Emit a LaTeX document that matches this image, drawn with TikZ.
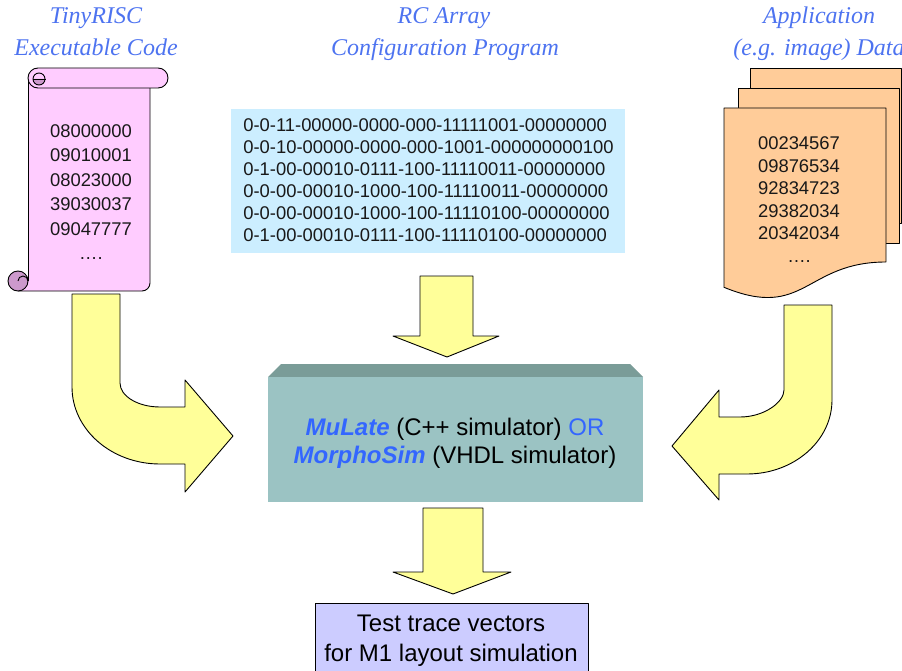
\documentclass[tikz,border=0pt]{standalone}
\usepackage{fontspec}
\setmainfont{Liberation Sans}
\newfontfamily\titlefont{Liberation Serif}

\definecolor{arrowyellow}{HTML}{FFFF99}
\definecolor{scrollpink}{HTML}{FFCCFF}
\definecolor{scrolldark}{HTML}{CC99CC}
\definecolor{pagepeach}{HTML}{FFCC99}
\definecolor{cfgblue}{HTML}{CCEEFF}
\definecolor{simface}{HTML}{9BC3C3}
\definecolor{simtop}{HTML}{7A9C98}
\definecolor{tracelilac}{HTML}{CCCCFF}
\definecolor{titleblue}{HTML}{4D73F0}
\definecolor{simblue}{HTML}{3366FF}

\tikzset{
  outline/.style={draw=black, line width=0.9pt, line join=round},
  bigarrow/.style={outline, fill=arrowyellow},
  page/.style={outline, fill=pagepeach},
  titletext/.style={font=\titlefont\itshape\fontsize{24}{28}\selectfont,
    text=titleblue, inner sep=0pt, anchor=base},
  listing/.style={inner sep=0pt, anchor=north, text=black!90},
}

\begin{document}
\begin{tikzpicture}[x=1pt, y=-1pt]
\useasboundingbox (0,0) rectangle (902,671);

% headings
\node[titletext] (codeA) at (96,24) {TinyRISC};
\node[titletext] (codeB) at (96,56) {Executable Code};
\node[titletext] (cfgA) at (444,24) {RC Array};
\node[titletext] (cfgB) at (445,56) {Configuration Program};
\node[titletext] (dataA) at (819,24) {Application};
\node[titletext] (dataB) at (819,56) {(e.g. image) Data};

% scroll: body
\fill[scrollpink] (28,78) -- (28,281) -- (18,281) -- (18,291) -- (142,291)
  arc[start angle=90, end angle=0, radius=8] -- (150,80) -- cycle;
\draw[outline] (28,78) -- (28,281);
\draw[outline] (18,291) -- (142,291)
  arc[start angle=90, end angle=0, radius=8] -- (150,88);
% scroll: bottom curl
\draw[outline, fill=scrolldark] (18,281) circle[radius=10];
\draw[outline] (28,281) arc[start angle=0, end angle=-180, radius=5];
% scroll: top roll
\draw[outline, fill=scrollpink] (38,68) -- (158,68)
  arc[start angle=-90, end angle=90, radius=10] -- (38,88)
  arc[start angle=90, end angle=270, radius=10] -- cycle;
\fill[scrolldark] (33,79) arc[start angle=180, end angle=0, radius=6] -- cycle;
\draw[outline] (39,79) circle[radius=6];
\draw[outline] (33,79) -- (46,79);

\node[listing, align=center, font=\fontsize{18.4}{24.5}\selectfont] (codelist) at (91,124.4)
  {08000000\\09010001\\08023000\\39030037\\09047777\\….};

% configuration program
\fill[cfgblue] (231,109) rectangle (625,253);
\node[listing, align=left, font=\fontsize{18.4}{22}\selectfont] (cfglist) at (428.5,118.4)
  {0-0-11-00000-0000-000-11111001-00000000\\
   0-0-10-00000-0000-000-1001-000000000100\\
   0-1-00-00010-0111-100-11110011-00000000\\
   0-0-00-00010-1000-100-11110011-00000000\\
   0-0-00-00010-1000-100-11110100-00000000\\
   0-1-00-00010-0111-100-11110100-00000000};

% data pages
\draw[page] (750,68) rectangle (901,223);
\draw[page] (738,88) rectangle (899,243);
\draw[page] (724,108) -- (886,108) -- (886,262)
  .. controls (805,262) and (805,320.6) .. (724,287.3) -- cycle;
\node[listing, align=center, font=\fontsize{18.4}{22.6}\selectfont] (datalist) at (799,136.4)
  {00234567\\09876534\\92834723\\29382034\\20342034\\….};

% arrows
\draw[bigarrow] (72,294) -- (120,294) -- (120,383)
  .. controls (120,396.2) and (138,407) .. (160,407) -- (185,407) -- (185,380)
  -- (233,436) -- (185,492) -- (185,464) -- (160,464)
  .. controls (111.4,464) and (72,429.5) .. (72,387) -- cycle;
\draw[bigarrow] (784,305) -- (832,305) -- (832,400)
  .. controls (832,440.8) and (793.9,474) .. (747,474) -- (719,474) -- (719,500)
  -- (672,446) -- (719,390) -- (719,417) -- (740,417)
  .. controls (764.3,417) and (784,402.1) .. (784,390) -- cycle;
\draw[bigarrow] (420,276) -- (473,276) -- (473,336) -- (499,336) -- (447,357)
  -- (393,336) -- (420,336) -- cycle;
\draw[bigarrow] (423,508) -- (483,508) -- (483,572) -- (511,572) -- (453,594)
  -- (393,572) -- (423,572) -- cycle;

% simulator block
\fill[simtop] (268,377) -- (281,364) -- (630,364) -- (643,377) -- cycle;
\fill[simface] (268,377) rectangle (643,502);
\node[inner sep=0pt, anchor=north, align=center, font=\fontsize{24}{28}\selectfont] (simtext) at (455,418)
  {\textcolor{simblue}{\textbf{\textit{MuLate}}} (C++ simulator) \textcolor{simblue}{OR}\\
   \textcolor{simblue}{\textbf{\textit{MorphoSim}}} (VHDL simulator)};

% trace output
\draw[outline, fill=tracelilac] (315,603) rectangle (588,690);
\node[inner sep=0pt, anchor=north, align=center, font=\fontsize{24}{29.5}\selectfont] (tracetext) at (451,615)
  {Test trace vectors\\for M1 layout simulation};
\end{tikzpicture}
\end{document}
